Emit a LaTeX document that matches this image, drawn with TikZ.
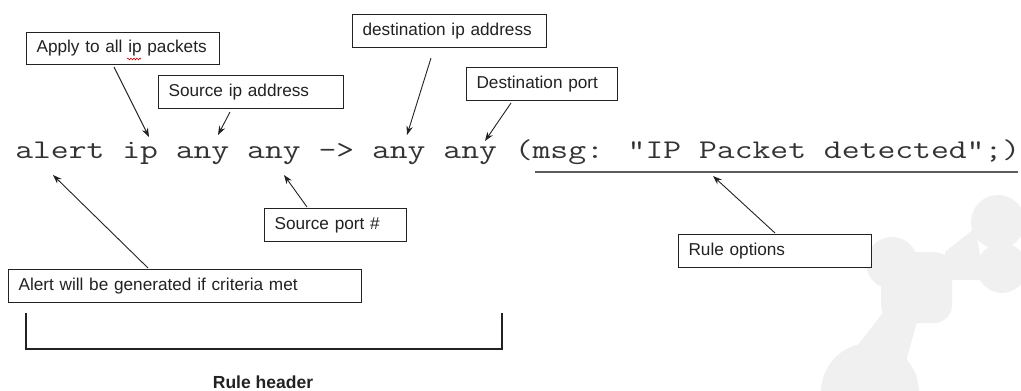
\documentclass[tikz,border=0pt]{standalone}
\usepackage{fontspec}
\setmainfont{Liberation Sans}
\usetikzlibrary{arrows.meta,decorations.pathmorphing}
\definecolor{logo}{HTML}{F0F0F0}
\definecolor{ink}{HTML}{222222}
\definecolor{code}{HTML}{333333}
\tikzset{
  lbl/.style={draw=ink, line width=1.1pt, fill=white, anchor=north west, inner xsep=10pt, inner ysep=0pt,
    align=left, font=\fontsize{17.2}{19}\selectfont, text=ink},
  arr/.style={draw=ink, line width=0.9pt, -{Stealth[length=9pt,width=6.5pt]}},
}
\begin{document}
\begin{tikzpicture}[x=1pt,y=-1pt]
\useasboundingbox (0,0) rectangle (1021,391);
% background logo
\fill[logo] (998,222) circle (27);
\fill[logo] (1002,268) circle (25);
\fill[logo] (892,263) circle (26);
\fill[logo, rounded corners=18pt] (881,252) rectangle (952,323);
\fill[logo] (870,392) circle (49);
\fill[logo] (885,310) -- (918,318) -- (905,365) -- (850,355) -- cycle;
\fill[logo] (945,252) -- (975,228) -- (985,280) -- (945,280) -- cycle;
% code line
\node[anchor=base west, inner sep=0pt, xscale=1.283, text=code, font=\fontsize{27}{28}\ttfamily] (code) at (15,158)
  {alert ip any any -> any any (msg: "IP Packet detected";)};
\draw[draw=code!80, line width=1.3pt] (535,172) coordinate (u1) -- (1018,172) coordinate (u2);
% label boxes
\node[lbl, text width=173pt, minimum height=32pt] (apply) at (26,32) {Apply to all ip packets};
\node[lbl, text width=165pt, minimum height=33pt] (srcip) at (158,75) {Source ip address};
\node[lbl, text width=174pt, minimum height=33pt] (dstip) at (352,14) {destination ip address};
\node[lbl, text width=131pt, minimum height=33pt] (dstport) at (466,67) {Destination port};
\node[lbl, text width=122pt, minimum height=33pt] (srcport) at (264,208) {Source port \#};
\node[lbl, text width=173pt, minimum height=33pt] (ruleopt) at (678,234) {Rule options};
\node[lbl, text width=333pt, minimum height=33pt] (alertbox) at (8,269) {Alert will be generated if criteria met};
% spelling squiggle
\draw[red!80!black, line width=0.6pt, decorate, decoration={snake, amplitude=0.9pt, segment length=3pt}] (127,59) -- (141,59);
% connector ends
\coordinate (a1) at (114,67);  \coordinate (t1) at (149,137);
\coordinate (a2) at (230,112); \coordinate (t2) at (218,135);
\coordinate (a3) at (431,58);  \coordinate (t3) at (407,135);
\coordinate (a4) at (511,103); \coordinate (t4) at (485,141);
\coordinate (a5) at (307,207); \coordinate (t5) at (284,175);
\coordinate (a6) at (148,268); \coordinate (t6) at (53,175);
\coordinate (a7) at (775,233); \coordinate (t7) at (713,176);
\draw[arr] (a1) -- (t1);
\draw[arr] (a2) -- (t2);
\draw[arr] (a3) -- (t3);
\draw[arr] (a4) -- (t4);
\draw[arr] (a5) -- (t5);
\draw[arr] (a6) -- (t6);
\draw[arr] (a7) -- (t7);
% bracket
\coordinate (b1) at (26,313); \coordinate (b2) at (502,313);
\draw[ink, line width=1.1pt] (b1) -- (26,349) -- (502,349) -- (b2);
\node[anchor=base, inner sep=0pt, font=\fontsize{17.5}{19}\selectfont\bfseries, text=ink] (rh) at (263,388) {Rule header};
\end{tikzpicture}
\end{document}
